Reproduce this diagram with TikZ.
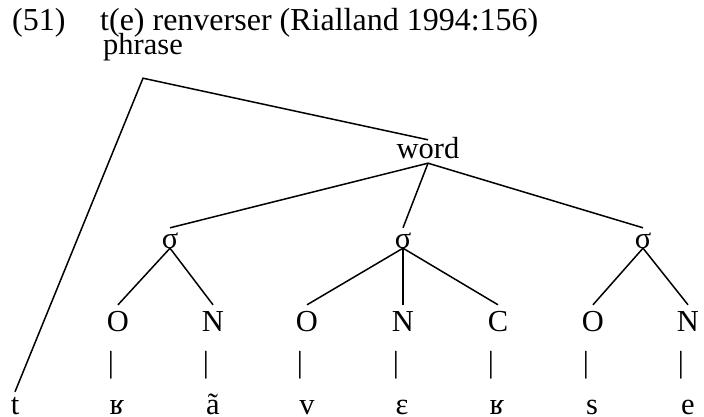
\documentclass[tikz,border=0pt]{standalone}
\usepackage{fontspec}
\setmainfont{Liberation Serif}
\begin{document}
\begin{tikzpicture}[x=1pt,y=-1pt,
  lab/.style={inner sep=0pt, anchor=base, font=\fontsize{30.5}{36}\selectfont},
  ttl/.style={lab, anchor=base west, font=\fontsize{32}{38}\selectfont},
  sig/.style={lab, text height=20pt, text depth=0pt},
  seg/.style={lab, text height=26pt, text depth=0pt},
  bot/.style={lab, text height=22pt, text depth=0pt},
  bar/.style={lab},
  edge/.style={line width=1.5pt}]
\useasboundingbox (0,0) rectangle (704,417);
% title
\node[ttl] (num) at (12,31) {(51)};
\node[ttl] (title) at (100,31) {t(e) renverser (Rialland 1994:156)};
% upper nodes
\node[lab, anchor=base west, text depth=23pt] (phrase) at (103,55) {phrase};
\node[lab, text height=18pt, text depth=5pt] (word) at (428,158) {word};
\node[sig] (s1) at (170,248) {σ};
\node[sig] (s2) at (403,248) {σ};
\node[sig] (s3) at (643,248) {σ};
% O N C row
\node[seg] (o1) at (118,331) {O};
\node[seg] (n1) at (213,331) {N};
\node[seg] (o2) at (307,331) {O};
\node[seg] (n2) at (403,331) {N};
\node[seg] (c2) at (498,331) {C};
\node[seg] (o3) at (593,331) {O};
\node[seg] (n3) at (688,331) {N};
% bars
\node[bar] (b1) at (111,372) {|};
\node[bar] (b2) at (206,372) {|};
\node[bar] (b3) at (300,372) {|};
\node[bar] (b4) at (396,372) {|};
\node[bar] (b5) at (491,372) {|};
\node[bar] (b6) at (586,372) {|};
\node[bar] (b7) at (681,372) {|};
% bottom segments
\node[bot] (t) at (15,414) {t};
\node[bot] (r1) at (117,414) {ʁ};
\node[bot] (a) at (213,414) {ã};
\node[bot] (v) at (307,414) {v};
\node[bot] (e1) at (402,414) {ɛ};
\node[bot] (r2) at (497,414) {ʁ};
\node[bot] (s) at (592,414) {s};
\node[bot] (e2) at (688,414) {e};
% connectors
\draw[edge] (t.north) -- (phrase.south) -- (word.north);
\draw[edge] (word.south) -- (s1.north);
\draw[edge] (word.south) -- (s2.north);
\draw[edge] (word.south) -- (s3.north);
\draw[edge] (s1.south) -- (o1.north);
\draw[edge] (s1.south) -- (n1.north);
\draw[edge] (s2.south) -- (o2.north);
\draw[edge] (s2.south) -- (n2.north);
\draw[edge] (s2.south) -- (c2.north);
\draw[edge] (s3.south) -- (o3.north);
\draw[edge] (s3.south) -- (n3.north);
\end{tikzpicture}
\end{document}
